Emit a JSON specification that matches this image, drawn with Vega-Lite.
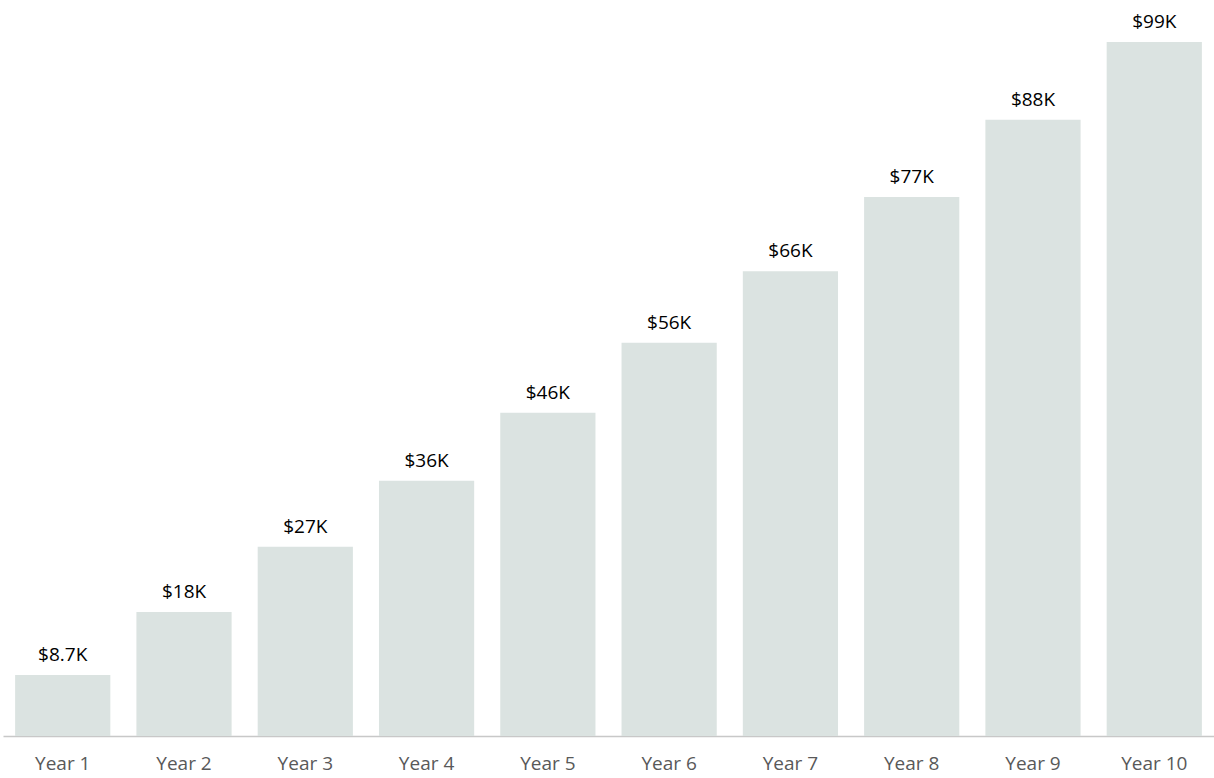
{
  "$schema": "https://vega.github.io/schema/vega-lite/v6.json",
  "width": 1211,
  "height": 736,
  "autosize": {"type": "none"},
  "padding": {"left": 3, "top": 0, "right": 0, "bottom": 42},
  "background": "white",
  "config": {"view": {"stroke": null}},
  "data": {"values": [
    {"year": "Year 1", "value": 8700, "label": "$8.7K"},
    {"year": "Year 2", "value": 17700, "label": "$18K"},
    {"year": "Year 3", "value": 27000, "label": "$27K"},
    {"year": "Year 4", "value": 36400, "label": "$36K"},
    {"year": "Year 5", "value": 46100, "label": "$46K"},
    {"year": "Year 6", "value": 56100, "label": "$56K"},
    {"year": "Year 7", "value": 66300, "label": "$66K"},
    {"year": "Year 8", "value": 76900, "label": "$77K"},
    {"year": "Year 9", "value": 87900, "label": "$88K"},
    {"year": "Year 10", "value": 99000, "label": "$99K"}
  ]},
  "encoding": {
    "x": {"field": "year", "type": "nominal", "sort": null,
      "scale": {"paddingInner": 0.215, "paddingOuter": 0.1},
      "axis": {"title": null, "labelAngle": 0, "ticks": false, "domainColor": "#c8c8c8", "domainWidth": 1.5,
        "labelFont": "Open Sans", "labelFontSize": 19, "labelColor": "#595959", "labelPadding": 18}},
    "y": {"field": "value", "type": "quantitative", "scale": {"domain": [0, 105000]}, "axis": null}
  },
  "layer": [
    {"mark": {"type": "bar", "color": "#dbe3e1"}},
    {"mark": {"type": "text", "baseline": "bottom", "dy": -10, "font": "Open Sans", "fontSize": 19, "color": "#000000"},
     "encoding": {"text": {"field": "label"}}}
  ]
}
